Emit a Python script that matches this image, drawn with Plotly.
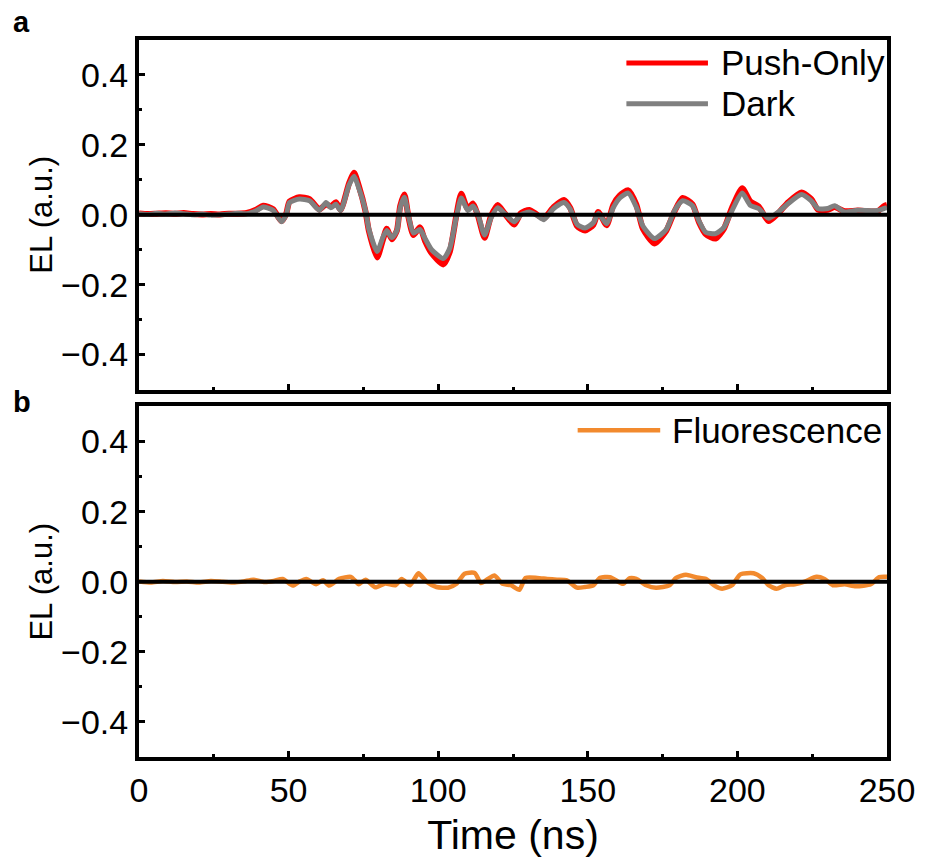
import plotly.graph_objects as go

# ---- data ----
time_top = [0, 3, 6, 9, 12, 15, 18, 21, 24, 27, 30, 33, 36,
            39.3, 41.5, 44.8, 47.6, 49.2, 50.3, 53.6, 57.0, 60.3, 62.5,
            64.1, 65.8, 67.4, 70.2, 71.9, 73.5, 75.7, 76.8, 79.6, 81.5,
            82.8, 84.5, 86.2, 87.3, 88.7, 90.1, 91.7, 93.9, 95.6, 97.8,
            101.7, 103.9, 106.1, 107.7, 109.9, 111.6, 113.2, 115.5, 117.6,
            119.9, 122.1, 125.4, 127.6, 130.4, 133.1, 135.3, 138.6, 142.0,
            144.1, 146.4, 149.1, 151.9, 153.5, 156.3, 158.5, 160.7, 163.5,
            166.2, 168.4, 172.3, 176.2, 179.0, 181.7, 185.0, 187.2, 189.4,
            192.7, 195.5, 198.2, 201.6, 204.3, 207.1, 210.4, 213.7, 217.0,
            221.4, 224.7, 226.9, 230.2, 232.5, 235.8, 240.2, 246.8, 249.0, 250.0]

dark = [0.003, 0.001, 0.004, 0.002, 0.005, 0.003, 0.000, 0.002, -0.001, 0.000, 0.002, 0.004, 0.003,
        0.012, 0.022, 0.013, -0.020, 0.000, 0.035, 0.045, 0.040, 0.013, 0.035,
        0.020, 0.030, 0.012, 0.085, 0.110, 0.075, 0.012, -0.040, -0.105, -0.065,
        -0.045, -0.065, -0.045, 0.020, 0.050, -0.005, -0.052, -0.042, -0.068, -0.100,
        -0.125, -0.095, -0.005, 0.048, 0.012, 0.025, 0.003, -0.058, -0.010,
        0.020, 0.004, -0.020, 0.000, 0.008, -0.002, -0.014, 0.018, 0.035,
        0.017, -0.027, -0.038, -0.022, 0.004, -0.026, 0.020, 0.048, 0.062,
        0.022, -0.032, -0.068, -0.042, 0.012, 0.040, 0.026, -0.018, -0.050,
        -0.054, -0.036, 0.012, 0.062, 0.027, 0.018, -0.010, 0.008, 0.032,
        0.058, 0.040, 0.018, 0.018, 0.026, 0.008, 0.013, 0.012, 0.018, 0.020]

push_only = [0.004, 0.002, 0.003, 0.004, 0.003, 0.005, 0.002, 0.001, 0.002, 0.001, 0.003, 0.003, 0.005,
             0.015, 0.026, 0.016, -0.018, 0.003, 0.038, 0.050, 0.045, 0.015, 0.030,
             0.024, 0.036, 0.014, 0.090, 0.120, 0.082, 0.010, -0.045, -0.122, -0.072,
             -0.040, -0.070, -0.045, 0.025, 0.058, -0.008, -0.058, -0.036, -0.075, -0.110,
             -0.142, -0.105, 0.000, 0.060, 0.016, 0.032, 0.000, -0.066, -0.005,
             0.028, 0.005, -0.028, 0.004, 0.014, 0.000, -0.010, 0.022, 0.042,
             0.020, -0.032, -0.045, -0.028, 0.008, -0.030, 0.028, 0.055, 0.070,
             0.030, -0.040, -0.082, -0.046, 0.010, 0.048, 0.030, -0.022, -0.055,
             -0.068, -0.040, 0.020, 0.076, 0.038, 0.024, -0.018, 0.005, 0.036,
             0.064, 0.045, 0.015, 0.014, 0.022, 0.010, 0.012, 0.010, 0.025, 0.028]

time_bot = [0, 4, 8, 12, 16, 20, 24, 28, 32, 35, 38.2, 42, 45, 48, 51.4, 53.5,
            55.9, 59.2, 61.5, 63.6, 66.9, 70.8, 73.5, 75.7, 79.0, 82.3, 85.7,
            87.8, 90.6, 93.4, 96.1, 99.4, 103.3, 106.1, 108.8, 112.2, 114.3,
            116.6, 118.8, 121.5, 124.3, 127.1, 129.2, 133.1, 136.4, 139.7,
            143.0, 146.4, 149.1, 151.9, 154.1, 157.4, 161.8, 164.0, 166.2,
            169.5, 172.8, 177.3, 179.5, 182.8, 186.1, 189.4, 192.7, 194.9,
            198.2, 201.0, 205.4, 208.2, 210.4, 213.1, 215.9, 219.2, 222.5,
            226.4, 229.1, 231.9, 235.8, 239.6, 244.6, 247.4, 250.0]

fluorescence = [0.001, -0.002, 0.002, -0.001, 0.001, -0.002, 0.002, 0.000, -0.002, 0.001, 0.006, -0.001, 0.002, 0.008, -0.011, 0.000,
                0.008, -0.007, 0.004, -0.011, 0.008, 0.014, -0.007, 0.006, -0.016, -0.005, -0.010,
                0.008, -0.010, 0.024, 0.000, -0.015, -0.017, -0.006, 0.023, 0.025, -0.004,
                0.008, 0.018, -0.006, -0.010, -0.023, 0.011, 0.011, 0.008, 0.006,
                0.004, -0.017, -0.015, -0.010, 0.011, 0.013, -0.006, 0.010, 0.008,
                -0.010, -0.017, -0.010, 0.011, 0.020, 0.013, 0.008, -0.013, -0.020,
                -0.010, 0.021, 0.024, 0.011, -0.010, -0.020, -0.010, -0.007, 0.000,
                0.014, 0.008, -0.010, -0.007, -0.013, -0.007, 0.013, 0.014]

x_ticks = [0, 50, 100, 150, 200, 250]
y_ticks = [-0.4, -0.2, 0.0, 0.2, 0.4]
y_tick_text = ["\u22120.4", "\u22120.2", "0.0", "0.2", "0.4"]

RED = "#ff0000"
GRAY = "#808080"
ORANGE = "#f28a2e"
FONT = "Arial, Liberation Sans, sans-serif"

fig = go.Figure()
fig.add_trace(go.Scatter(x=time_top, y=push_only, mode="lines", name="Push-Only",
                         line=dict(color=RED, width=6, shape="spline", smoothing=0.6),
                         xaxis="x", yaxis="y", showlegend=False))
fig.add_trace(go.Scatter(x=time_top, y=dark, mode="lines", name="Dark",
                         line=dict(color=GRAY, width=5, shape="spline", smoothing=0.6),
                         xaxis="x", yaxis="y", showlegend=False))
fig.add_trace(go.Scatter(x=time_bot, y=fluorescence, mode="lines", name="Fluorescence",
                         line=dict(color=ORANGE, width=4.5, shape="spline", smoothing=0.6),
                         xaxis="x2", yaxis="y2", showlegend=False))

# geometry of plotting area (pixels)
L, R, T, B = 139, 891, 40, 760
W, H = R - L, B - T

def px(x):
    return (x - L) / W

def py(y):
    return (B - y) / H

axis_common = dict(showline=True, linewidth=4, linecolor="black", mirror=True,
                   showgrid=False, zeroline=False, ticks="inside", tickcolor="black",
                   ticklen=6, tickwidth=3)

ytitle_font = dict(family=FONT, size=31, color="black")

fig.update_layout(
    width=927, height=863,
    margin=dict(l=L, r=927 - R, t=T, b=863 - B),
    paper_bgcolor="white", plot_bgcolor="white",
    font=dict(family=FONT, size=34, color="black"),
    xaxis=dict(axis_common, domain=[0, 1], range=[0, 250], tickvals=x_ticks,
               showticklabels=False, anchor="y",
               minor=dict(dtick=25, ticklen=3, tickwidth=3, tickcolor="black", ticks="inside")),
    yaxis=dict(axis_common, domain=[py(391), 1], range=[-0.5, 0.5], tickvals=y_ticks,
               ticktext=y_tick_text, anchor="x",
               title=dict(text="EL (a.u.)", standoff=0, font=ytitle_font),
               minor=dict(dtick=0.1, ticklen=3, tickwidth=3, tickcolor="black", ticks="inside")),
    xaxis2=dict(axis_common, domain=[0, 1], range=[0, 250], tickvals=x_ticks,
                anchor="y2", title=dict(text="Time (ns)", standoff=14),
                minor=dict(dtick=25, ticklen=3, tickwidth=3, tickcolor="black", ticks="inside")),
    yaxis2=dict(axis_common, domain=[0, py(408)], range=[-0.5, 0.5], tickvals=y_ticks,
                ticktext=y_tick_text, anchor="x2",
                title=dict(text="EL (a.u.)", standoff=0, font=ytitle_font),
                minor=dict(dtick=0.1, ticklen=3, tickwidth=3, tickcolor="black", ticks="inside")),
)

# zero lines drawn above the traces
for xr, yr in (("x domain", "y"), ("x2 domain", "y2")):
    fig.add_shape(type="line", xref=xr, yref=yr, x0=0, x1=1, y0=0, y1=0,
                  line=dict(color="black", width=4), layer="above")

# custom legends
legend_items = [("Push-Only", RED, 5, 629, 711, 63, 722),
                ("Dark", GRAY, 5, 629, 711, 104, 722),
                ("Fluorescence", ORANGE, 4.5, 580, 663, 432, 673)]
for text, color, w, xa, xb, yy, xt in legend_items:
    fig.add_shape(type="line", xref="paper", yref="paper", x0=px(xa), x1=px(xb),
                  y0=py(yy), y1=py(yy), line=dict(color=color, width=w))
    fig.add_annotation(text=text, xref="paper", yref="paper", x=px(xt), y=py(yy),
                       xanchor="left", yanchor="middle", showarrow=False,
                       font=dict(family=FONT, size=35, color="black"))

# panel labels
for lab, yy in (("a", 22), ("b", 404)):
    fig.add_annotation(text="<b>%s</b>" % lab, xref="paper", yref="paper",
                       x=px(10), y=py(yy), xanchor="left", yanchor="middle",
                       showarrow=False, font=dict(family=FONT, size=29, color="black"))

fig.write_html("out.html")
